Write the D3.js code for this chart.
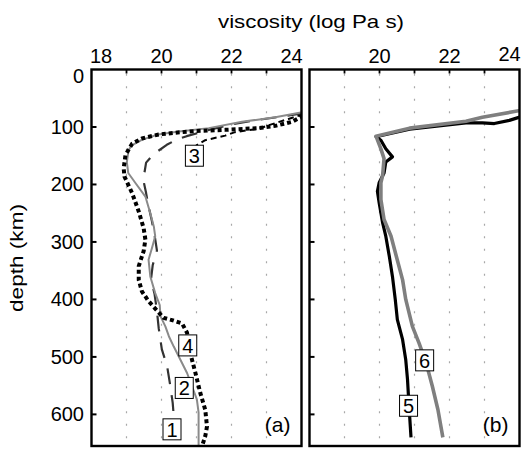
<!DOCTYPE html>
<html>
<head>
<meta charset="utf-8">
<script src="https://cdn.jsdelivr.net/npm/d3@7/dist/d3.min.js"></script>
<style>
  body { margin: 0; background: #fff; }
  svg text { font-family: "Liberation Sans", Arial, sans-serif; fill: #000; }
</style>
</head>
<body>
<svg id="chart" width="522" height="450"></svg>
<script>
// ---- data (viscosity in log Pa s, depth in km) ----
// panel (a)
var visc1  = [24.05, 23.19, 22.6, 21.96, 21.3, 20.72, 20.43, 20.15, 19.76, 19.56, 19.48, 19.56, 19.62, 19.73, 19.82, 19.87, 19.75, 19.7, 19.8, 19.87, 19.92, 20.01, 20.16, 20.25, 20.32, 20.35, 20.3, 20.2];
var depth1 = [76, 84, 89, 96, 106, 116, 122, 131, 148, 162, 192, 215, 235, 265, 295, 315, 340, 365, 390, 420, 450, 487, 516, 550, 580, 603, 625, 655];

var visc2  = [24.05, 23.25, 22.3, 21.35, 20.5, 19.9, 19.45, 19.15, 19.06, 19.01, 19.05, 19.25, 19.54, 19.68, 19.78, 19.82, 19.73, 19.63, 19.68, 19.82, 19.95, 19.97, 20.11, 20.21, 20.35, 20.54, 20.73, 20.87, 21.01, 21.06, 21.06, 21.06];
var depth2 = [74, 83, 91, 102, 108, 113, 122, 132, 140, 161, 180, 197, 221, 250, 273, 290, 310, 331, 360, 389, 410, 429, 447, 464, 482, 505, 528, 551, 574, 597, 621, 655];

var visc3  = [24.05, 23.63, 23.06, 22.78, 22.1, 21.82, 21.25, 21.0, 20.9];
var depth3 = [78, 86, 97, 103, 109, 115, 123, 132, 145];

var visc4  = [24.05, 23.73, 23.25, 22.78, 21.82, 21.0, 20.39, 19.92, 19.44, 19.16, 18.97, 18.92, 18.94, 19.16, 19.35, 19.49, 19.54, 19.49, 19.35, 19.35, 19.44, 19.63, 19.82, 20.06, 20.3, 20.59, 20.73, 20.82, 20.97, 21.11, 21.25, 21.3, 21.25, 21.16];
var depth4 = [80, 91, 98, 102, 105, 107, 110, 113, 120, 129, 149, 172, 186, 215, 247, 276, 296, 316, 342, 366, 386, 403, 416, 432, 436, 442, 458, 493, 528, 563, 592, 621, 638, 655];

// panel (b)
var visc5  = [24.05, 23.71, 23.28, 22.94, 22.47, 20.86, 19.9, 20.04, 20.18, 20.37, 20.18, 20.13, 19.99, 19.94, 19.99, 20.09, 20.18, 20.28, 20.37, 20.45, 20.51, 20.66, 20.75, 20.8, 20.85, 20.9];
var depth5 = [82, 88.5, 94, 93, 93, 104, 117, 123, 138, 152, 161, 180, 197, 212, 232, 267, 290, 325, 360, 400, 435, 470, 505, 539, 592, 640];

var visc6  = [24.05, 22.94, 22.47, 20.86, 19.9, 20.04, 20.13, 20.09, 20.04, 20.04, 20.13, 20.33, 20.48, 20.66, 20.75, 20.94, 21.13, 21.33, 21.51, 21.67, 21.81];
var depth6 = [71, 83, 90, 102, 116, 138, 155, 184, 197, 226, 261, 290, 325, 366, 400, 447, 476, 510, 551, 592, 640];

// curve labels: [text, viscosity, depth]
var labelsA = [["3", 20.94, 150], ["4", 20.75, 480], ["2", 20.65, 554], ["1", 20.3, 626]];
var labelsB = [["6", 21.29, 506], ["5", 20.83, 585]];

var depthTicks = [0, 100, 200, 300, 400, 500, 600];
var viscTicksA = [18, 20, 22, 24];
var viscTicksB = [20, 22, 24];
var gridVisc = [19, 20, 21, 22, 23];

var svg = d3.select("#chart");

var yScale = d3.scaleLinear().domain([0, 655]).range([69.5, 446]);

var panels = [
  {id: "a", x: d3.scaleLinear().domain([18, 24]).range([91.5, 301.5]), ticks: viscTicksA, labels: labelsA, tag: "(a)",
   curves: [
     {v: visc1, d: depth1, stroke: "#333", width: 2.2, dash: "16,11"},
     {v: visc3, d: depth3, stroke: "#000", width: 2, dash: "6,4"},
     {v: visc2, d: depth2, stroke: "#8a8a8a", width: 2, dash: null},
     {v: visc4, d: depth4, stroke: "#000", width: 4, dash: "4,3"}
   ]},
  {id: "b", x: d3.scaleLinear().domain([18, 24]).range([309.5, 519.5]), ticks: viscTicksB, labels: labelsB, tag: "(b)",
   curves: [
     {v: visc5, d: depth5, stroke: "#000", width: 3.2, dash: null},
     {v: visc6, d: depth6, stroke: "#7f7f7f", width: 3.6, dash: null}
   ]}
];

var defs = svg.append("defs");

panels.forEach(function(p) {
  var x = p.x, x0 = x.range()[0], x1 = x.range()[1];
  var y0 = yScale.range()[0], y1 = yScale.range()[1];
  var g = svg.append("g").attr("class", "panel panel-" + p.id);

  defs.append("clipPath").attr("id", "clip-" + p.id)
    .append("rect").attr("x", x0).attr("y", y0).attr("width", x1 - x0).attr("height", y1 - y0);

  // dotted grid
  g.selectAll(".grid").data(gridVisc).enter().append("line")
      .attr("x1", function(d) { return x(d); }).attr("x2", function(d) { return x(d); })
      .attr("y1", y0).attr("y2", y1)
      .attr("stroke", "#a8a8a8").attr("stroke-width", 1.2)
      .attr("stroke-dasharray", "2,10.5").attr("stroke-dashoffset", -16.8);

  // curves
  var line = d3.line()
      .x(function(d) { return x(d[0]); })
      .y(function(d) { return yScale(d[1]); });

  var cg = g.append("g").attr("clip-path", "url(#clip-" + p.id + ")");
  p.curves.forEach(function(c) {
    cg.append("path")
      .attr("d", line(d3.zip(c.v, c.d)))
      .attr("fill", "none")
      .attr("stroke", c.stroke)
      .attr("stroke-width", c.width)
      .attr("stroke-linejoin", "round")
      .attr("stroke-dasharray", c.dash);
  });

  // ticks (inward)
  g.selectAll(".xtick").data(gridVisc).enter().append("line")
      .attr("x1", function(d) { return x(d); }).attr("x2", function(d) { return x(d); })
      .attr("y1", y0).attr("y2", y0 + 4)
      .attr("stroke", "#000").attr("stroke-width", 1.8);
  g.selectAll(".ytick").data(depthTicks.slice(1)).enter().append("line")
      .attr("x1", x0).attr("x2", x0 + 5)
      .attr("y1", function(d) { return yScale(d); }).attr("y2", function(d) { return yScale(d); })
      .attr("stroke", "#000").attr("stroke-width", 2);

  // frame
  g.append("rect")
      .attr("x", x0).attr("y", y0).attr("width", x1 - x0).attr("height", y1 - y0)
      .attr("fill", "none").attr("stroke", "#000").attr("stroke-width", 2.4);

  // top tick labels (end labels nudged inside like the original)
  g.selectAll(".xlab").data(p.ticks).enter().append("text")
      .attr("x", function(d) {
        var px = x(d);
        if (d === 18) px += 9.5;
        if (d === 24) px -= 10;
        return px;
      })
      .attr("y", function(d) { return (p.id === "b" && d === 24) ? 60.5 : 62.5; })
      .attr("text-anchor", "middle")
      .style("font-size", "20px")
      .text(function(d) { return d; });

  // curve label boxes
  var lb = g.selectAll(".lab").data(p.labels).enter().append("g")
      .attr("transform", function(d) { return "translate(" + x(d[1]) + "," + yScale(d[2]) + ")"; });
  lb.append("rect")
      .attr("x", -9).attr("y", -10.5).attr("width", 18).attr("height", 21)
      .attr("fill", "#fff").attr("stroke", "#000").attr("stroke-width", 1);
  lb.append("text")
      .attr("y", 7.5).attr("text-anchor", "middle")
      .style("font-size", "20px")
      .text(function(d) { return d[0]; });

  // panel tag
  g.append("text")
      .attr("x", x1 - 11).attr("y", 432)
      .attr("text-anchor", "end")
      .style("font-size", "21px")
      .text(p.tag);
});

// depth labels (left panel only)
svg.selectAll(".ylab").data(depthTicks).enter().append("text")
    .attr("x", 84)
    .attr("y", function(d) { return d === 0 ? yScale(d) + 13 : yScale(d) + 7; })
    .attr("text-anchor", "end")
    .style("font-size", "20px")
    .text(function(d) { return d; });

// axis titles
svg.append("text")
    .attr("x", 311).attr("y", 27.5)
    .attr("text-anchor", "middle")
    .attr("textLength", 186).attr("lengthAdjust", "spacingAndGlyphs")
    .style("font-size", "19px")
    .text("viscosity (log Pa s)");

svg.append("text")
    .attr("transform", "translate(23,258) rotate(-90)")
    .attr("text-anchor", "middle")
    .attr("textLength", 108).attr("lengthAdjust", "spacingAndGlyphs")
    .style("font-size", "19px")
    .text("depth (km)");
</script>
</body>
</html>
